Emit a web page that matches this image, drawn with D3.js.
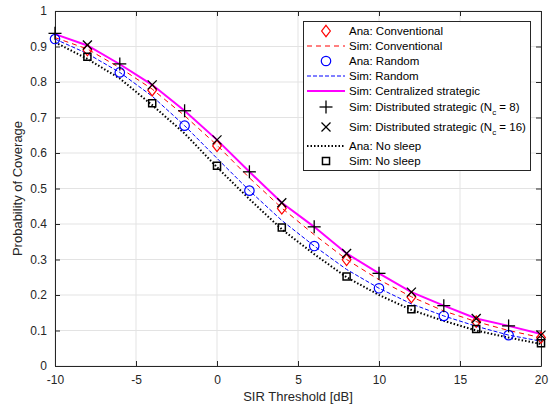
<!DOCTYPE html>
<meta charset="utf-8">
<html>
<body style="margin:0;background:#fff">
<script src="https://d3js.org/d3.v7.min.js"></script>
<script type="text/javascript">
// SIR thresholds (dB), every 2 dB
var sir = [-10, -8, -6, -4, -2, 0, 2, 4, 6, 8, 10, 12, 14, 16, 18, 20];

// curves sampled on every threshold
var simCentral = [0.935, 0.903, 0.850, 0.792, 0.719, 0.637, 0.547, 0.460, 0.392, 0.317, 0.261, 0.208, 0.170, 0.134, 0.113, 0.090];
var simConv    = [0.925, 0.893, 0.840, 0.780, 0.705, 0.622, 0.530, 0.445, 0.370, 0.300, 0.243, 0.195, 0.155, 0.125, 0.100, 0.080];
var simRandom  = [0.921, 0.880, 0.827, 0.760, 0.677, 0.585, 0.494, 0.410, 0.338, 0.272, 0.219, 0.175, 0.141, 0.112, 0.087, 0.070];
var anaNoSleep = [0.912, 0.865, 0.810, 0.735, 0.655, 0.560, 0.470, 0.385, 0.315, 0.250, 0.200, 0.158, 0.127, 0.100, 0.080, 0.062];

// marker-only series
var sirA = [-10, -6, -2, 2, 6, 10, 14, 18];
var sirB = [-8, -4, 0, 4, 8, 12, 16, 20];
var anaConv    = [0.890, 0.777, 0.620, 0.444, 0.299, 0.194, 0.125, 0.080];
var anaRandom  = [0.921, 0.827, 0.677, 0.494, 0.338, 0.219, 0.141, 0.087];
var distNc8    = [0.937, 0.851, 0.719, 0.547, 0.392, 0.261, 0.170, 0.113];
var distNc16   = [0.904, 0.792, 0.637, 0.460, 0.317, 0.208, 0.134, 0.087];
var simNoSleep = [0.871, 0.740, 0.564, 0.390, 0.252, 0.160, 0.104, 0.064];

var xTicks = [-10, -5, 0, 5, 10, 15, 20];
var yTicks = d3.range(0, 1.01, 0.1);

var W = 553, H = 409;
var mLeft = 55, mRight = 541, mTop = 11, mBottom = 366;

var svg = d3.select("body").append("svg")
    .attr("width", W).attr("height", H)
    .style("font-family", "'Liberation Sans', Arial, sans-serif");

var x = d3.scaleLinear().domain([-10, 20]).range([mLeft, mRight]);
var y = d3.scaleLinear().domain([0, 1]).range([mBottom, mTop]);

// grid
svg.append("g").selectAll("line").data(xTicks).enter().append("line")
    .attr("x1", d => x(d)).attr("x2", d => x(d))
    .attr("y1", mTop).attr("y2", mBottom)
    .style("stroke", "#e3e3e3").style("stroke-width", 1);
svg.append("g").selectAll("line").data(yTicks).enter().append("line")
    .attr("x1", mLeft).attr("x2", mRight)
    .attr("y1", d => y(d)).attr("y2", d => y(d))
    .style("stroke", "#e3e3e3").style("stroke-width", 1);

// axes (MATLAB-style box with inward ticks)
var fmtX = d => String(d);
var fmtY = d => d < 0.01 ? "0" : d > 0.99 ? "1" : d3.format(".1f")(d);
var ax = svg.append("g").attr("transform", "translate(0," + mBottom + ")")
    .call(d3.axisBottom(x).tickValues(xTicks).tickFormat(fmtX).tickSizeInner(-5).tickSizeOuter(0).tickPadding(9));
var axT = svg.append("g").attr("transform", "translate(0," + mTop + ")")
    .call(d3.axisTop(x).tickValues(xTicks).tickSizeInner(-5).tickSizeOuter(0).tickFormat(""));
var ay = svg.append("g").attr("transform", "translate(" + mLeft + ",0)")
    .call(d3.axisLeft(y).tickValues(yTicks).tickFormat(fmtY).tickSizeInner(-5).tickSizeOuter(0).tickPadding(8));
var ayR = svg.append("g").attr("transform", "translate(" + mRight + ",0)")
    .call(d3.axisRight(y).tickValues(yTicks).tickFormat("").tickSizeInner(-5).tickSizeOuter(0));
[ax, axT, ay, ayR].forEach(function (g) {
    g.selectAll("path,line").style("stroke", "#262626").style("stroke-width", 1);
    g.selectAll("text").style("font-size", "12px").style("fill", "#262626")
        .style("font-family", "'Liberation Sans', Arial, sans-serif");
});

svg.append("text").attr("x", (mLeft + mRight) / 2).attr("y", 401)
    .attr("text-anchor", "middle").style("font-size", "13px").style("fill", "#262626")
    .text("SIR Threshold [dB]");
svg.append("text").attr("transform", "translate(22," + (mTop + mBottom) / 2 + ") rotate(-90)")
    .attr("text-anchor", "middle").style("font-size", "13px").style("fill", "#262626")
    .text("Probability of Coverage");

var plot = svg.append("g");
var line = d3.line().x((d, i) => x(sir[i])).y(d => y(d));

function drawLine(vals, color, width, dash) {
    plot.append("path").datum(vals).attr("d", line)
        .style("fill", "none").style("stroke", color).style("stroke-width", width)
        .style("stroke-dasharray", dash);
}
drawLine(anaNoSleep, "#000", 2, "1.5,2");
drawLine(simRandom, "#0000ff", 1, "4,2");
drawLine(simConv, "#ff0000", 1, "5,4");
drawLine(simCentral, "#ff00ff", 2, null);

var sym = {
    diamond: d3.symbol().type(d3.symbolDiamond).size(42),
    circle: d3.symbol().type(d3.symbolCircle).size(70),
    square: d3.symbol().type(d3.symbolSquare).size(50)
};
// MATLAB diamonds are wider than d3's
var symScale = {diamond: " scale(1.25,0.95)", circle: "", square: ""};
function drawSym(xs, vals, kind, color, width) {
    plot.append("g").selectAll("path").data(vals).enter().append("path")
        .attr("transform", (d, i) => "translate(" + x(xs[i]) + "," + y(d) + ")" + symScale[kind])
        .attr("d", sym[kind]())
        .style("fill", "none").style("stroke", color).style("stroke-width", width)
        .attr("vector-effect", "non-scaling-stroke");
}
function crossMark(g, kind) {
    var s = kind === "plus" ? 6.5 : 4.5;
    if (kind === "plus") {
        g.append("line").attr("x1", -s).attr("x2", s).attr("y1", 0).attr("y2", 0);
        g.append("line").attr("x1", 0).attr("x2", 0).attr("y1", -s).attr("y2", s);
    } else {
        g.append("line").attr("x1", -s).attr("x2", s).attr("y1", -s).attr("y2", s);
        g.append("line").attr("x1", -s).attr("x2", s).attr("y1", s).attr("y2", -s);
    }
    g.selectAll("line").style("stroke", "#000").style("stroke-width", 1.3);
}
function drawCross(xs, vals, kind) {
    var g = plot.append("g").selectAll("g").data(vals).enter().append("g")
        .attr("transform", (d, i) => "translate(" + x(xs[i]) + "," + y(d) + ")");
    crossMark(g, kind);
}
drawSym(sirB, anaConv, "diamond", "#ff0000", 1.2);
drawSym(sirA, anaRandom, "circle", "#0000ff", 1.2);
drawCross(sirA, distNc8, "plus");
drawCross(sirB, distNc16, "cross");
drawSym(sirB, simNoSleep, "square", "#000", 1.5);

// legend
var lg = svg.append("g");
lg.append("rect").attr("x", 303.5).attr("y", 21.5).attr("width", 227).attr("height", 149)
    .style("fill", "#fff").style("stroke", "#262626").style("stroke-width", 1);
var entries = [
    {t: "Ana: Conventional", k: "diamond", c: "#ff0000", y: 31},
    {t: "Sim: Conventional", k: "line", c: "#ff0000", w: 1, d: "5,4", y: 46},
    {t: "Ana: Random", k: "circle", c: "#0000ff", y: 61},
    {t: "Sim: Random", k: "line", c: "#0000ff", w: 1, d: "4,2", y: 76},
    {t: "Sim: Centralized strategic", k: "line", c: "#ff00ff", w: 2, d: null, y: 91},
    {t: "Sim: Distributed strategic (N", sub: "c", rest: " = 8)", k: "plus", y: 107},
    {t: "Sim: Distributed strategic (N", sub: "c", rest: " = 16)", k: "cross", y: 127},
    {t: "Ana: No sleep", k: "line", c: "#000", w: 2, d: "1.5,2", y: 146},
    {t: "Sim: No sleep", k: "square", c: "#000", y: 161}
];
entries.forEach(function (e) {
    var cx = 326;
    if (e.k === "line") {
        lg.append("line").attr("x1", 307).attr("x2", 345).attr("y1", e.y).attr("y2", e.y)
            .style("stroke", e.c).style("stroke-width", e.w).style("stroke-dasharray", e.d);
    } else if (e.k === "plus" || e.k === "cross") {
        crossMark(lg.append("g").attr("transform", "translate(" + cx + "," + e.y + ")"), e.k);
    } else {
        lg.append("path")
            .attr("transform", "translate(" + cx + "," + e.y + ")" + symScale[e.k])
            .attr("d", sym[e.k]())
            .attr("vector-effect", "non-scaling-stroke")
            .style("fill", "none").style("stroke", e.c).style("stroke-width", e.k === "square" ? 1.5 : 1.2);
    }
    var t = lg.append("text").attr("x", 349).attr("y", e.y + 4)
        .style("font-size", "11.5px").style("fill", "#000").text(e.t);
    if (e.sub) {
        t.append("tspan").attr("dy", 4).style("font-size", "8px").text(e.sub);
        t.append("tspan").attr("dy", -4).text(e.rest);
    }
});
</script>
</body>
</html>
